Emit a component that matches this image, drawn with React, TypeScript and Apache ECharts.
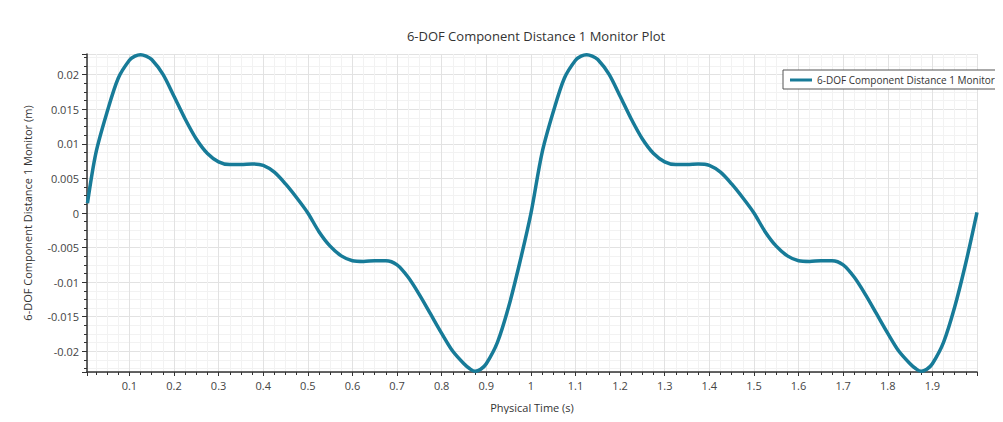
import React, { useEffect, useRef } from "react";
import * as echarts from "echarts";

const titleText = "6-DOF Component Distance 1 Monitor Plot";
const seriesName = "6-DOF Component Distance 1 Monitor";
const xAxisName = "Physical Time (s)";
const yAxisName = "6-DOF Component Distance 1 Monitor (m)";

// Physical time (s) of the sampled points, first and second period
const timeFirst = [
  0.006, 0.025, 0.05, 0.075, 0.1, 0.1125, 0.125, 0.1375, 0.15, 0.175, 0.2, 0.225,
  0.25, 0.275, 0.3, 0.325, 0.35, 0.375, 0.4, 0.425, 0.45, 0.475,
  0.5, 0.525, 0.55, 0.575, 0.6, 0.625, 0.65, 0.675, 0.7, 0.725,
  0.75, 0.775, 0.8, 0.825, 0.85, 0.8625, 0.875, 0.8875, 0.9, 0.925, 0.95, 0.975,
];
const timeSecond = [
  1.0, 1.025, 1.05, 1.075, 1.1, 1.1125, 1.125, 1.1375, 1.15, 1.175, 1.2, 1.225,
  1.25, 1.275, 1.3, 1.325, 1.35, 1.375, 1.4, 1.425, 1.45, 1.475,
  1.5, 1.525, 1.55, 1.575, 1.6, 1.625, 1.65, 1.675, 1.7, 1.725,
  1.75, 1.775, 1.8, 1.825, 1.85, 1.8625, 1.875, 1.8875, 1.9, 1.925, 1.95, 1.975, 2.0,
];

// Distance (m)
const distanceFirst = [
  0.0014, 0.0087, 0.0146, 0.0195, 0.0221, 0.0227, 0.0229, 0.0227, 0.0222, 0.0201, 0.0169, 0.0136,
  0.0107, 0.0086, 0.0074, 0.007, 0.007, 0.0071, 0.0069, 0.0059, 0.0042, 0.0022,
  0.0, -0.0027, -0.0048, -0.0062, -0.0069, -0.007, -0.0069, -0.0069, -0.0075, -0.0093,
  -0.0118, -0.0146, -0.0174, -0.02, -0.0218, -0.0225, -0.0229, -0.0226, -0.0218, -0.0187, -0.0136, -0.0072,
];
const distanceSecond = [
  -0.0001, 0.0087, 0.0146, 0.0195, 0.0221, 0.0227, 0.0229, 0.0227, 0.0222, 0.0201, 0.0169, 0.0136,
  0.0107, 0.0086, 0.0074, 0.007, 0.007, 0.0071, 0.0069, 0.0059, 0.0042, 0.0022,
  0.0, -0.0027, -0.0048, -0.0062, -0.0069, -0.007, -0.0069, -0.0069, -0.0075, -0.0093,
  -0.0118, -0.0146, -0.0174, -0.02, -0.0218, -0.0225, -0.0229, -0.0226, -0.0218, -0.0187, -0.0136, -0.0072, 0.0001,
];

const FONT = "'Open Sans', 'Noto Sans', sans-serif";
const LINE_COLOR = "#177b98";

export default function App() {
  const ref = useRef<HTMLDivElement | null>(null);

  useEffect(() => {
    if (!ref.current) return;
    const chart = echarts.init(ref.current, undefined, { renderer: "svg" });
    const times = [...timeFirst, ...timeSecond];
    const values = [...distanceFirst, ...distanceSecond];
    const data = times.map((t, i) => [t, values[i]]);

    chart.setOption({
      animation: false,
      backgroundColor: "#ffffff",
      textStyle: { fontFamily: FONT },
      title: {
        text: titleText,
        left: 531,
        top: 24,
        textAlign: "center",
        textStyle: { fontFamily: FONT, fontSize: 13, fontWeight: "normal", color: "#333" },
      },
      graphic: [
        {
          type: "rect",
          shape: { x: 7.5, y: 6.5, width: 1010, height: 430 },
          style: { fill: "none", stroke: "#e3e3e3", lineWidth: 1 },
          silent: true,
          z: -1,
        },
      ],
      legend: {
        left: 783,
        top: 70,
        orient: "vertical",
        backgroundColor: "#ffffff",
        borderColor: "#555",
        borderWidth: 1,
        borderRadius: 0,
        padding: [5, 5, 4, 7],
        itemWidth: 22,
        itemHeight: 3,
        itemGap: 0,
        textStyle: { fontFamily: FONT, fontSize: 10, color: "#333" },
        data: [{ name: seriesName, icon: "rect" }],
      },
      grid: { left: 87, right: 26, top: 54, bottom: 50 },
      xAxis: {
        type: "value",
        min: 0.005,
        max: 2.0,
        splitNumber: 20,
        name: xAxisName,
        nameLocation: "middle",
        nameGap: 30,
        nameTextStyle: { fontFamily: FONT, fontSize: 11, color: "#333" },
        axisLine: { show: true, onZero: false, lineStyle: { color: "#333", width: 1.5 } },
        axisTick: { show: true, length: 4, lineStyle: { color: "#333" } },
        minorTick: { show: true, splitNumber: 4, length: 3, lineStyle: { color: "#333" } },
        axisLabel: {
          showMinLabel: false,
          showMaxLabel: false,
          fontFamily: FONT,
          fontSize: 11,
          color: "#444",
          margin: 8,
        },
        splitLine: { show: true, lineStyle: { color: "#e2e2e2" } },
        minorSplitLine: { show: true, lineStyle: { color: "#f2f2f2" } },
      },
      yAxis: {
        type: "value",
        min: -0.023,
        max: 0.023,
        splitNumber: 9,
        name: yAxisName,
        nameLocation: "middle",
        nameGap: 54,
        nameTextStyle: { fontFamily: FONT, fontSize: 11, color: "#333" },
        axisLine: { show: true, onZero: false, lineStyle: { color: "#333", width: 1.5 } },
        axisTick: { show: true, length: 5, lineStyle: { color: "#333" } },
        minorTick: { show: true, splitNumber: 4, length: 3, lineStyle: { color: "#333" } },
        axisLabel: {
          showMinLabel: false,
          showMaxLabel: false,
          fontFamily: FONT,
          fontSize: 11,
          color: "#444",
          margin: 8,
        },
        splitLine: { show: true, lineStyle: { color: "#e2e2e2" } },
        minorSplitLine: { show: true, lineStyle: { color: "#f2f2f2" } },
      },
      series: [
        {
          name: seriesName,
          type: "line",
          data,
          smooth: 0.3,
          symbol: "none",
          lineStyle: { color: LINE_COLOR, width: 3.5 },
          itemStyle: { color: LINE_COLOR },
        },
      ],
    });

    return () => chart.dispose();
  }, []);

  return <div ref={ref} style={{ width: 1003, height: 422, margin: -8 }} />;
}
